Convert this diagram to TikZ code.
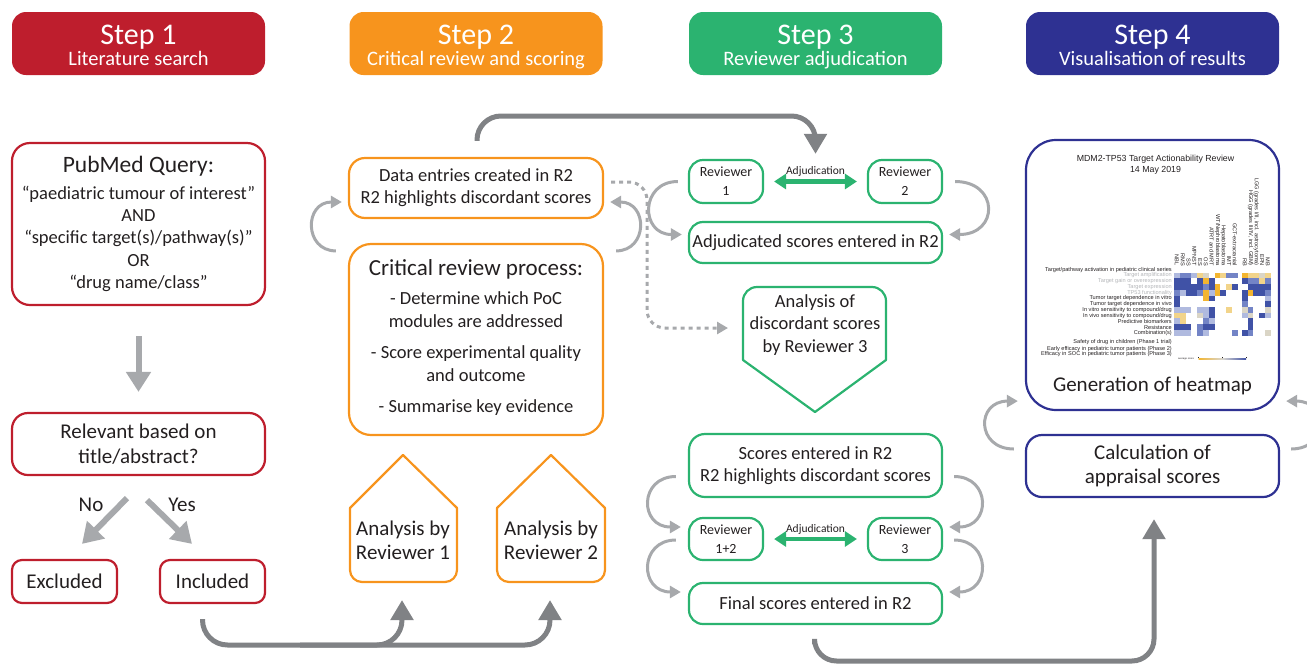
\documentclass[tikz,border=0pt]{standalone}
\usepackage{fontspec}
\setmainfont{Carlito}
\newfontfamily\hmfont{Liberation Sans}
\usetikzlibrary{arrows.meta,calc}
\definecolor{cred}{HTML}{BE1E2D}
\definecolor{corange}{HTML}{F7941D}
\definecolor{cgreen}{HTML}{2BB370}
\definecolor{cnavy}{HTML}{2E3192}
\definecolor{cdark}{HTML}{808285}
\definecolor{clight}{HTML}{A7A9AC}
\definecolor{txt}{HTML}{231F20}
\definecolor{hm1}{HTML}{4052A6}
\definecolor{hm2}{HTML}{7384C6}
\definecolor{hm3}{HTML}{B0BADF}
\definecolor{hm4}{HTML}{DAD5C6}
\definecolor{hm5}{HTML}{F3B530}
\definecolor{hm6}{HTML}{F2D48A}
\definecolor{hmg}{HTML}{B3B5B8}
\definecolor{hmp}{HTML}{D8D6D0}
\tikzset{
  base/.style={line width=2.2pt, rounded corners=14pt, align=center, text=txt, inner sep=0pt},
  rbox/.style={base, draw=cred},
  obox/.style={base, draw=corange},
  gbox/.style={base, draw=cgreen},
  nbox/.style={base, draw=cnavy},
  hdr/.style={rounded corners=14pt, minimum width=253pt, minimum height=63pt, inner sep=0pt},
  hdrbig/.style={font=\fontsize{30}{30}\selectfont, text=white, anchor=base, inner sep=0pt},
  hdrsub/.style={font=\fontsize{20.5}{24}\selectfont, text=white, anchor=base, inner sep=0pt},
  body/.style={font=\fontsize{18.5}{22.3}\selectfont, text=txt, align=center},
  bodyl/.style={font=\fontsize{21}{24.5}\selectfont, text=txt, align=center},
  small/.style={font=\fontsize{14}{19}\selectfont, text=txt, align=center},
  adjlab/.style={font=\fontsize{11.5}{12}\selectfont, text=txt, anchor=base, inner sep=0pt},
  shapeline/.style={line width=2.2pt, line cap=round, line join=round},
  darr/.style={draw=cdark, line width=5pt, -{Triangle[length=20pt,width=22pt]}},
  larr/.style={draw=clight, line width=3pt, -{Triangle[length=11pt,width=12pt]}},
  barr/.style={draw=clight, line width=6pt, -{Triangle[length=20pt,width=24pt]}},
  garr/.style={draw=cgreen, line width=4.5pt, {Triangle[length=12pt,width=15pt]}-{Triangle[length=12pt,width=15pt]}},
  hmtxt/.style={font=\hmfont\fontsize{5.6}{5.6}\selectfont, inner sep=0pt},
}
\begin{document}
\begin{tikzpicture}[x=1pt,y=-1pt]
\useasboundingbox (0,0) rectangle (1307,665);

% ---------- headers ----------
\node[hdr, fill=cred] (h1) at (138.5,43.5) {};
\node[hdrbig] (h1a) at (138.5,44) {Step 1};
\node[hdrsub] (h1b) at (138.5,65) {Literature search};
\node[hdr, fill=corange] (h2) at (476,43.5) {};
\node[hdrbig] (h2a) at (476,44) {Step 2};
\node[hdrsub] (h2b) at (476,65) {Critical review and scoring};
\node[hdr, fill=cgreen] (h3) at (815.5,43.5) {};
\node[hdrbig] (h3a) at (815.5,44) {Step 3};
\node[hdrsub] (h3b) at (815.5,65) {Reviewer adjudication};
\node[hdr, fill=cnavy] (h4) at (1152.5,43.5) {};
\node[hdrbig] (h4a) at (1152.5,44) {Step 4};
\node[hdrsub] (h4b) at (1152.5,65) {Visualisation of results};

% ---------- step 1 ----------
\node[rbox, body, minimum width=253pt, minimum height=162pt, rounded corners=18pt] (pub) at (138.5,224)
  {{\fontsize{23.5}{28}\selectfont PubMed Query:}\\[4pt]
   “paediatric tumour of interest”\\ AND\\ “specific target(s)/pathway(s)”\\ OR\\ “drug name/class”};
\node[rbox, bodyl, minimum width=253pt, minimum height=62pt, rounded corners=16pt] (rel) at (138.5,444)
  {Relevant based on\\title/abstract?};
\node[rbox, bodyl, minimum width=105pt, minimum height=43pt, rounded corners=10pt] (exc) at (64.5,581.5) {Excluded};
\node[rbox, bodyl, minimum width=105pt, minimum height=43pt, rounded corners=10pt] (inc) at (212.5,581.5) {Included};
\draw[barr] ($(pub.south)+(0,30)$) -- ($(rel.north)+(0,-20)$);
\draw[barr] ($(rel.south)+(-11.5,22)$) -- ($(exc.north)+(17.5,-15)$);
\draw[barr] ($(rel.south)+(8.5,24)$) -- ($(inc.north)+(-20.5,-15)$);
\node[bodyl] (no) at (91,505) {No};
\node[bodyl] (yes) at (182,505) {Yes};

% ---------- step 2 ----------
\node[obox, body, minimum width=254pt, minimum height=60pt, rounded corners=16pt] (data) at (476,188)
  {Data entries created in R2\\R2 highlights discordant scores};
\node[obox, minimum width=254pt, minimum height=191pt, rounded corners=22pt] (crit) at (476,339.5) {};
\node[font=\fontsize{18.5}{23}\selectfont, text=txt, align=center] (critt) at (476,337)
  {{\fontsize{23}{28}\selectfont Critical review process:}\\[6pt]
   - Determine which PoC\\ modules are addressed\\[8pt]
   - Score experimental quality\\ and outcome\\[8pt]
   - Summarise key evidence};
% house shapes
\draw[shapeline, draw=corange] (350,508) -- (403,455) -- (457,508);
\draw[shapeline, draw=corange, rounded corners=12pt] (457,508) -- (457,582) -- (350,582) -- (350,508);
\draw[shapeline, draw=corange] (497,508) -- (551,455) -- (605,508);
\draw[shapeline, draw=corange, rounded corners=12pt] (605,508) -- (605,582) -- (497,582) -- (497,508);
\node[bodyl] (an1) at (403,540.5) {Analysis by\\Reviewer 1};
\node[bodyl] (an2) at (551,540.5) {Analysis by\\Reviewer 2};
% curved arrows step 2
\draw[larr] ($(crit.north west)+(-12,8)$) .. controls +(-32,0) and +(-38,0) .. ($(data.west)+(-6,14)$);
\draw[larr] ($(crit.north east)+(12,8)$) .. controls +(32,0) and +(38,0) .. ($(data.east)+(6,14)$);

% ---------- step 3 ----------
\node[gbox, small, minimum width=74pt, minimum height=43pt] (r1) at (726,181.5) {Reviewer\\1};
\node[gbox, small, minimum width=74pt, minimum height=43pt] (r2) at (905,181.5) {Reviewer\\2};
\draw[garr] ($(r1.east)+(10,0)$) -- ($(r2.west)+(-10,0)$);
\node[adjlab] (adjl1) at (815.5,174) {Adjudication};
\node[gbox, body, minimum width=253pt, minimum height=41pt] (adj) at (815.5,242.5) {Adjudicated scores entered in R2};
\draw[larr] ($(r1.west)+(-10,0)$) .. controls +(-38,0) and +(-42,0) .. ($(adj.west)+(-6,-8)$);
\draw[larr] ($(r2.east)+(12,0)$) .. controls +(44,0) and +(50,0) .. ($(adj.east)+(6,-8)$);
% down pentagon
\draw[shapeline, draw=cgreen, rounded corners=14pt] (743,360) -- (743,287) -- (886,287) -- (886,360);
\draw[shapeline, draw=cgreen] (743,360) -- (815,412) -- (886,360);
\node[body] (an3) at (815,325) {Analysis of\\discordant scores\\by Reviewer 3};
\node[gbox, body, minimum width=253pt, minimum height=63pt, rounded corners=16pt] (sc) at (815.5,465.5)
  {Scores entered in R2\\R2 highlights discordant scores};
\node[gbox, small, minimum width=74pt, minimum height=42pt] (r12) at (726,539) {Reviewer\\1+2};
\node[gbox, small, minimum width=74pt, minimum height=42pt] (r3) at (905,539) {Reviewer\\3};
\draw[garr] ($(r12.east)+(10,0)$) -- ($(r3.west)+(-10,0)$);
\node[adjlab] (adjl2) at (815.5,532) {Adjudication};
\node[gbox, body, minimum width=253pt, minimum height=41pt] (fin) at (815.5,603.5) {Final scores entered in R2};
\draw[larr] ($(sc.west)+(-12,11)$) .. controls +(-37,0) and +(-42,0) .. ($(r12.west)+(-7,-12)$);
\draw[larr] ($(r12.west)+(-12,1)$) .. controls +(-37,0) and +(-42,0) .. ($(fin.west)+(-7,-11.5)$);
\draw[larr] ($(sc.east)+(11,11)$) .. controls +(37,0) and +(42,0) .. ($(r3.east)+(6,-12)$);
\draw[larr] ($(r3.east)+(11,1)$) .. controls +(37,0) and +(42,0) .. ($(fin.east)+(6,-11.5)$);

% dotted connector
\coordinate (dstart) at ($(data.east)+(7,-6)$);
\coordinate (dc) at (647,328);
\coordinate (dend) at ($(743,328)+(-15,0)$);
\draw[larr, dash pattern=on 4pt off 4pt, rounded corners=18pt] (dstart) -| (dc) -- (dend);

% ---------- step 4 ----------
\node[nbox, minimum width=253pt, minimum height=270pt, rounded corners=30pt] (heat) at (1152.5,275) {};
\node[bodyl] (gen) at (1152.5,386) {Generation of heatmap};
\node[nbox, bodyl, minimum width=253pt, minimum height=62pt, rounded corners=16pt] (appr) at (1152.5,466)
  {Calculation of\\appraisal scores};
\draw[larr] ($(appr.west)+(-11,-17)$) .. controls +(-38,0) and +(-42,0) .. ($(heat.south west)+(-7,-10)$);
\draw[larr] ($(appr.east)+(11,-17)$) .. controls +(38,0) and +(43,0) .. ($(heat.south east)+(6,-10)$);

% heatmap content
\node[font=\hmfont\fontsize{8.8}{10.7}\selectfont, align=center, text=txt, inner sep=0pt] (hmt) at (1155.5,164.5)
  {MDM2-TP53 Target Actionability Review\\14 May 2019};
\foreach \rowv [count=\r] in {
  {3,2,2,3,6,4,0,5,6,2,2,5,6,6,4,6},
  {1,1,1,0,1,5,1,0,0,0,0,1,2,2,6,2},
  {1,1,1,1,1,2,1,5,0,6,1,0,1,1,1,1},
  {2,3,1,1,2,5,3,5,1,0,0,1,5,1,1,2},
  {1,0,0,0,0,5,1,0,0,0,0,1,0,0,0,3},
  {1,0,0,0,0,0,0,0,0,0,0,2,0,0,0,1},
  {3,3,3,0,3,3,1,0,0,6,0,4,2,0,0,4},
  {6,6,0,0,4,3,1,0,0,0,0,3,4,0,1,3},
  {3,6,0,0,0,2,3,0,0,0,0,0,1,0,0,0},
  {1,1,1,0,2,1,1,0,0,0,0,0,1,0,0,0},
  {3,3,3,0,2,3,0,0,0,0,2,1,2,0,0,4}} {
  \foreach \cv [count=\k] in \rowv {
    \ifnum\cv>0
      \pgfmathsetmacro\xx{1174+5.8*(\k-1)+(\k>11)*4}
      \pgfmathsetmacro\yy{272.6+5.73*(\r-1)}
      \fill[hm\cv] (\xx,\yy) rectangle ++(5.85,5.78);
    \fi
  }
}
\node[hmtxt, anchor=east, text=txt] (rl0) at (1172,269.8) {Target/pathway activation in pediatric clinical series};
\foreach \lab [count=\r] in {
  {Target amplification},{Target gain or overexpression},{Target expression},{TP53 functionality},
  {Tumor target dependence in vitro},{Tumor target dependence in vivo},
  {In vitro sensitivity to compound/drug},{In vivo sensitivity to compound/drug},
  {Predictive biomarkers},{Resistance},{Combination(s)}} {
  \ifnum\r<5 \def\lc{hmg}\else\def\lc{txt}\fi
  \node[hmtxt, anchor=east, text=\lc] (rl\r) at (1172,{272.6+5.73*(\r-0.5)}) {\lab};
}
\node[hmtxt, anchor=east, text=txt] (rl12) at (1172,342.5) {Safety of drug in children (Phase 1 trial)};
\node[hmtxt, anchor=east, text=txt] (rl13) at (1172,348.6) {Early efficacy in pediatric tumor patients (Phase 2)};
\node[hmtxt, anchor=east, text=txt] (rl14) at (1172,354.3) {Efficacy in SOC in pediatric tumor patients (Phase 3)};
\foreach \lab [count=\k] in {
  {NBL},{RMS},{SS},{MPNST},{ES},{OS},{ATRT and MRT},{WT/Nephroblastoma},{Hepatoblastoma},
  {IMT},{GCT-extracranial},{RB},{HGG (grades III/IV, incl. GBM)},{LGG (grades I/II, incl. astrocytoma)},{EPN},{MB}} {
  \pgfmathsetmacro\xx{1174+5.8*(\k-0.5)+(\k>11)*4}
  \node[hmtxt, rotate=-90, anchor=east, text=txt] (cl\k) at (\xx,266) {\lab};
}
% legend
\node[font=\hmfont\fontsize{2.5}{3}\selectfont, text=txt, inner sep=0pt] (leg) at (1186,359.3) {average score};
\shade[left color=hm5, right color=hm1, middle color=hmp] (1198.6,358.3) rectangle (1246,359.9);
\draw[line width=0.3pt, draw=txt] (1198.6,358.3) -- ++(0,-1.6) (1222.3,358.3) -- ++(0,-1.6) (1246,358.3) -- ++(0,-1.6);

% ---------- dark connectors ----------
\coordinate (s1a) at ($(inc.south)+(-10,15)$);
\coordinate (bl) at (300,645);
\coordinate (t1) at (402,600);
\coordinate (t2) at (550,600);
\draw[darr, rounded corners=25pt] (s1a) |- (bl) -| (t1);
\draw[darr, rounded corners=25pt] (bl) -| (t2);
\coordinate (ts) at ($(data.north)+(1,-16)$);
\coordinate (tb) at (600,116);
\coordinate (tt) at ($(r1.north east)!0.5!(r2.north west)+(0,-5)$);
\draw[darr, rounded corners=24pt] (ts) |- (tb) -| (tt);
\coordinate (bs) at ($(fin.south)+(-1,19)$);
\coordinate (bb) at (1000,661);
\coordinate (bt) at ($(appr.south)+(1.5,21)$);
\draw[darr, rounded corners=22pt] (bs) |- (bb) -| (bt);
\end{tikzpicture}
\end{document}
